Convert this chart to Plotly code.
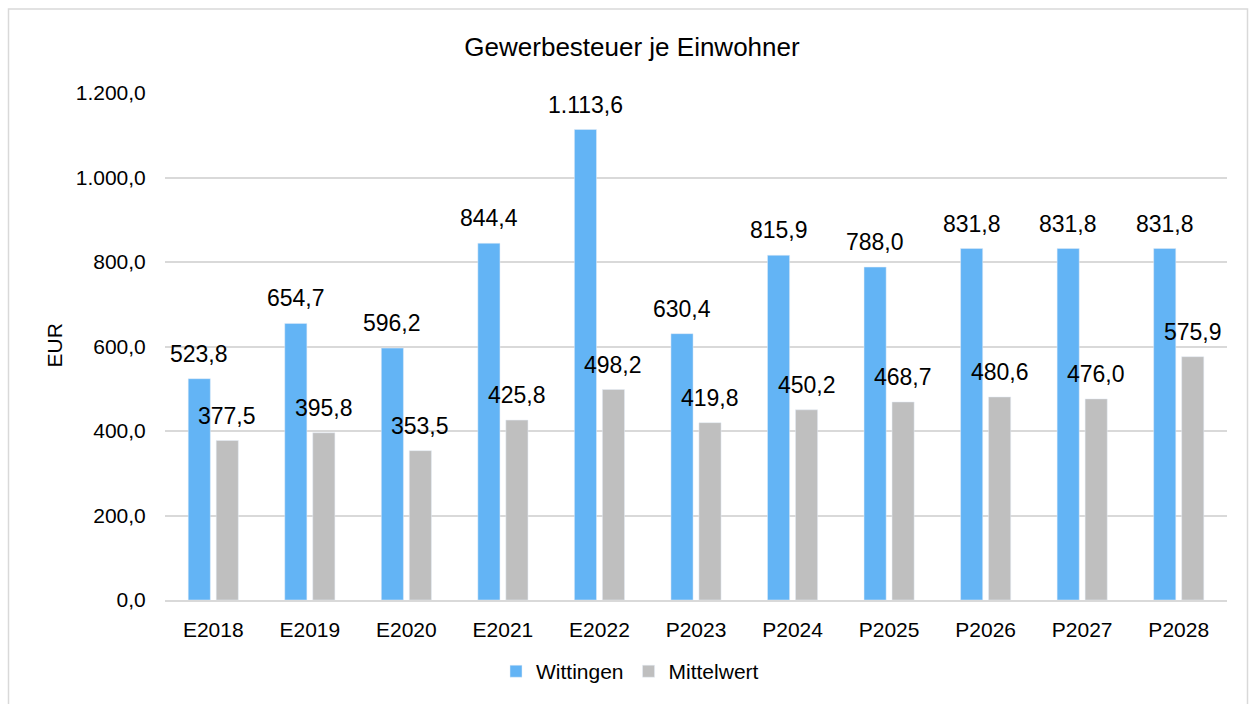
import plotly.graph_objects as go

categories = ["E2018", "E2019", "E2020", "E2021", "E2022", "P2023", "P2024", "P2025", "P2026", "P2027", "P2028"]
wittingen = [523.8, 654.7, 596.2, 844.4, 1113.6, 630.4, 815.9, 788.0, 831.8, 831.8, 831.8]
mittelwert = [377.5, 395.8, 353.5, 425.8, 498.2, 419.8, 450.2, 468.7, 480.6, 476.0, 575.9]
y_ticks = [0, 200, 400, 600, 800, 1000, 1200]

BLUE = "#63B4F5"
GRAY = "#BFBFBF"
FONT = "Liberation Sans, Arial, sans-serif"
W, H = 1255, 704
ml, mr, mt, mb = 165, 28, 93, 101
pw, ph = W - ml - mr, H - mt - mb


def de(v):
    s = f"{v:,.1f}"
    return s.replace(",", "X").replace(".", ",").replace("X", ".")


fig = go.Figure()
fig.add_trace(go.Bar(name="Wittingen", x=categories, y=wittingen, marker_color=BLUE))
fig.add_trace(go.Bar(name="Mittelwert", x=categories, y=mittelwert, marker_color=GRAY))

annotations = []
for c, v in zip(categories, wittingen):
    annotations.append(dict(x=c, y=v, xref="x", yref="y", text=de(v), showarrow=False,
                            xshift=-14, yshift=10, yanchor="bottom", xanchor="center",
                            font=dict(size=23, color="#000000", family=FONT)))
for c, v in zip(categories, mittelwert):
    annotations.append(dict(x=c, y=v, xref="x", yref="y", text=de(v), showarrow=False,
                            xshift=14, yshift=10, yanchor="bottom", xanchor="center",
                            font=dict(size=23, color="#000000", family=FONT)))
annotations.append(dict(x=(55 - ml) / pw, y=1 - (347 - mt) / ph, xref="paper", yref="paper",
                        text="EUR", textangle=-90, showarrow=False,
                        xanchor="center", yanchor="middle",
                        font=dict(size=21, color="#000000", family=FONT)))

fig.update_layout(
    width=W, height=H,
    margin=dict(l=ml, r=mr, t=mt, b=mb),
    paper_bgcolor="white", plot_bgcolor="white",
    font=dict(family=FONT, size=21, color="#000000"),
    separators=",.",
    barmode="group", bargap=0.42, bargroupgap=0.21,
    title=dict(text="Gewerbesteuer je Einwohner", x=632 / W,
               xanchor="center", y=1 - 47 / H, yanchor="middle",
               font=dict(size=26, color="#000000", family=FONT)),
    showlegend=True,
    legend=dict(orientation="h", x=(630 - ml) / pw, xanchor="center",
                y=-(675 - (mt + ph)) / ph, yanchor="middle",
                font=dict(size=21, color="#000000", family=FONT),
                itemwidth=30, traceorder="normal"),
    annotations=annotations,
    xaxis=dict(showgrid=False, showline=True, linecolor="#D9D9D9", linewidth=1.5,
               ticks="outside", ticklen=10, tickcolor="rgba(0,0,0,0)",
               tickfont=dict(size=21, color="#000000")),
    yaxis=dict(range=[0, 1200], tickvals=y_ticks, tickformat=",.1f",
               showgrid=True, gridcolor="#D9D9D9", gridwidth=1.5, zeroline=False,
               showline=False, ticks="outside", ticklen=14, tickcolor="rgba(0,0,0,0)",
               tickfont=dict(size=21, color="#000000")),
    shapes=[dict(type="rect", xref="paper", yref="paper",
                 x0=(8.5 - ml) / pw, x1=(1247.5 - ml) / pw,
                 y0=-(712 - (mt + ph)) / ph, y1=1 + (mt - 8.5) / ph,
                 line=dict(color="#D9D9D9", width=1.5), fillcolor="rgba(0,0,0,0)", layer="below")],
)

fig.write_html("out.html", config={"displayModeBar": False},
               post_script="document.body.style.margin='0';document.body.style.padding='0';document.body.style.overflow='hidden';")
